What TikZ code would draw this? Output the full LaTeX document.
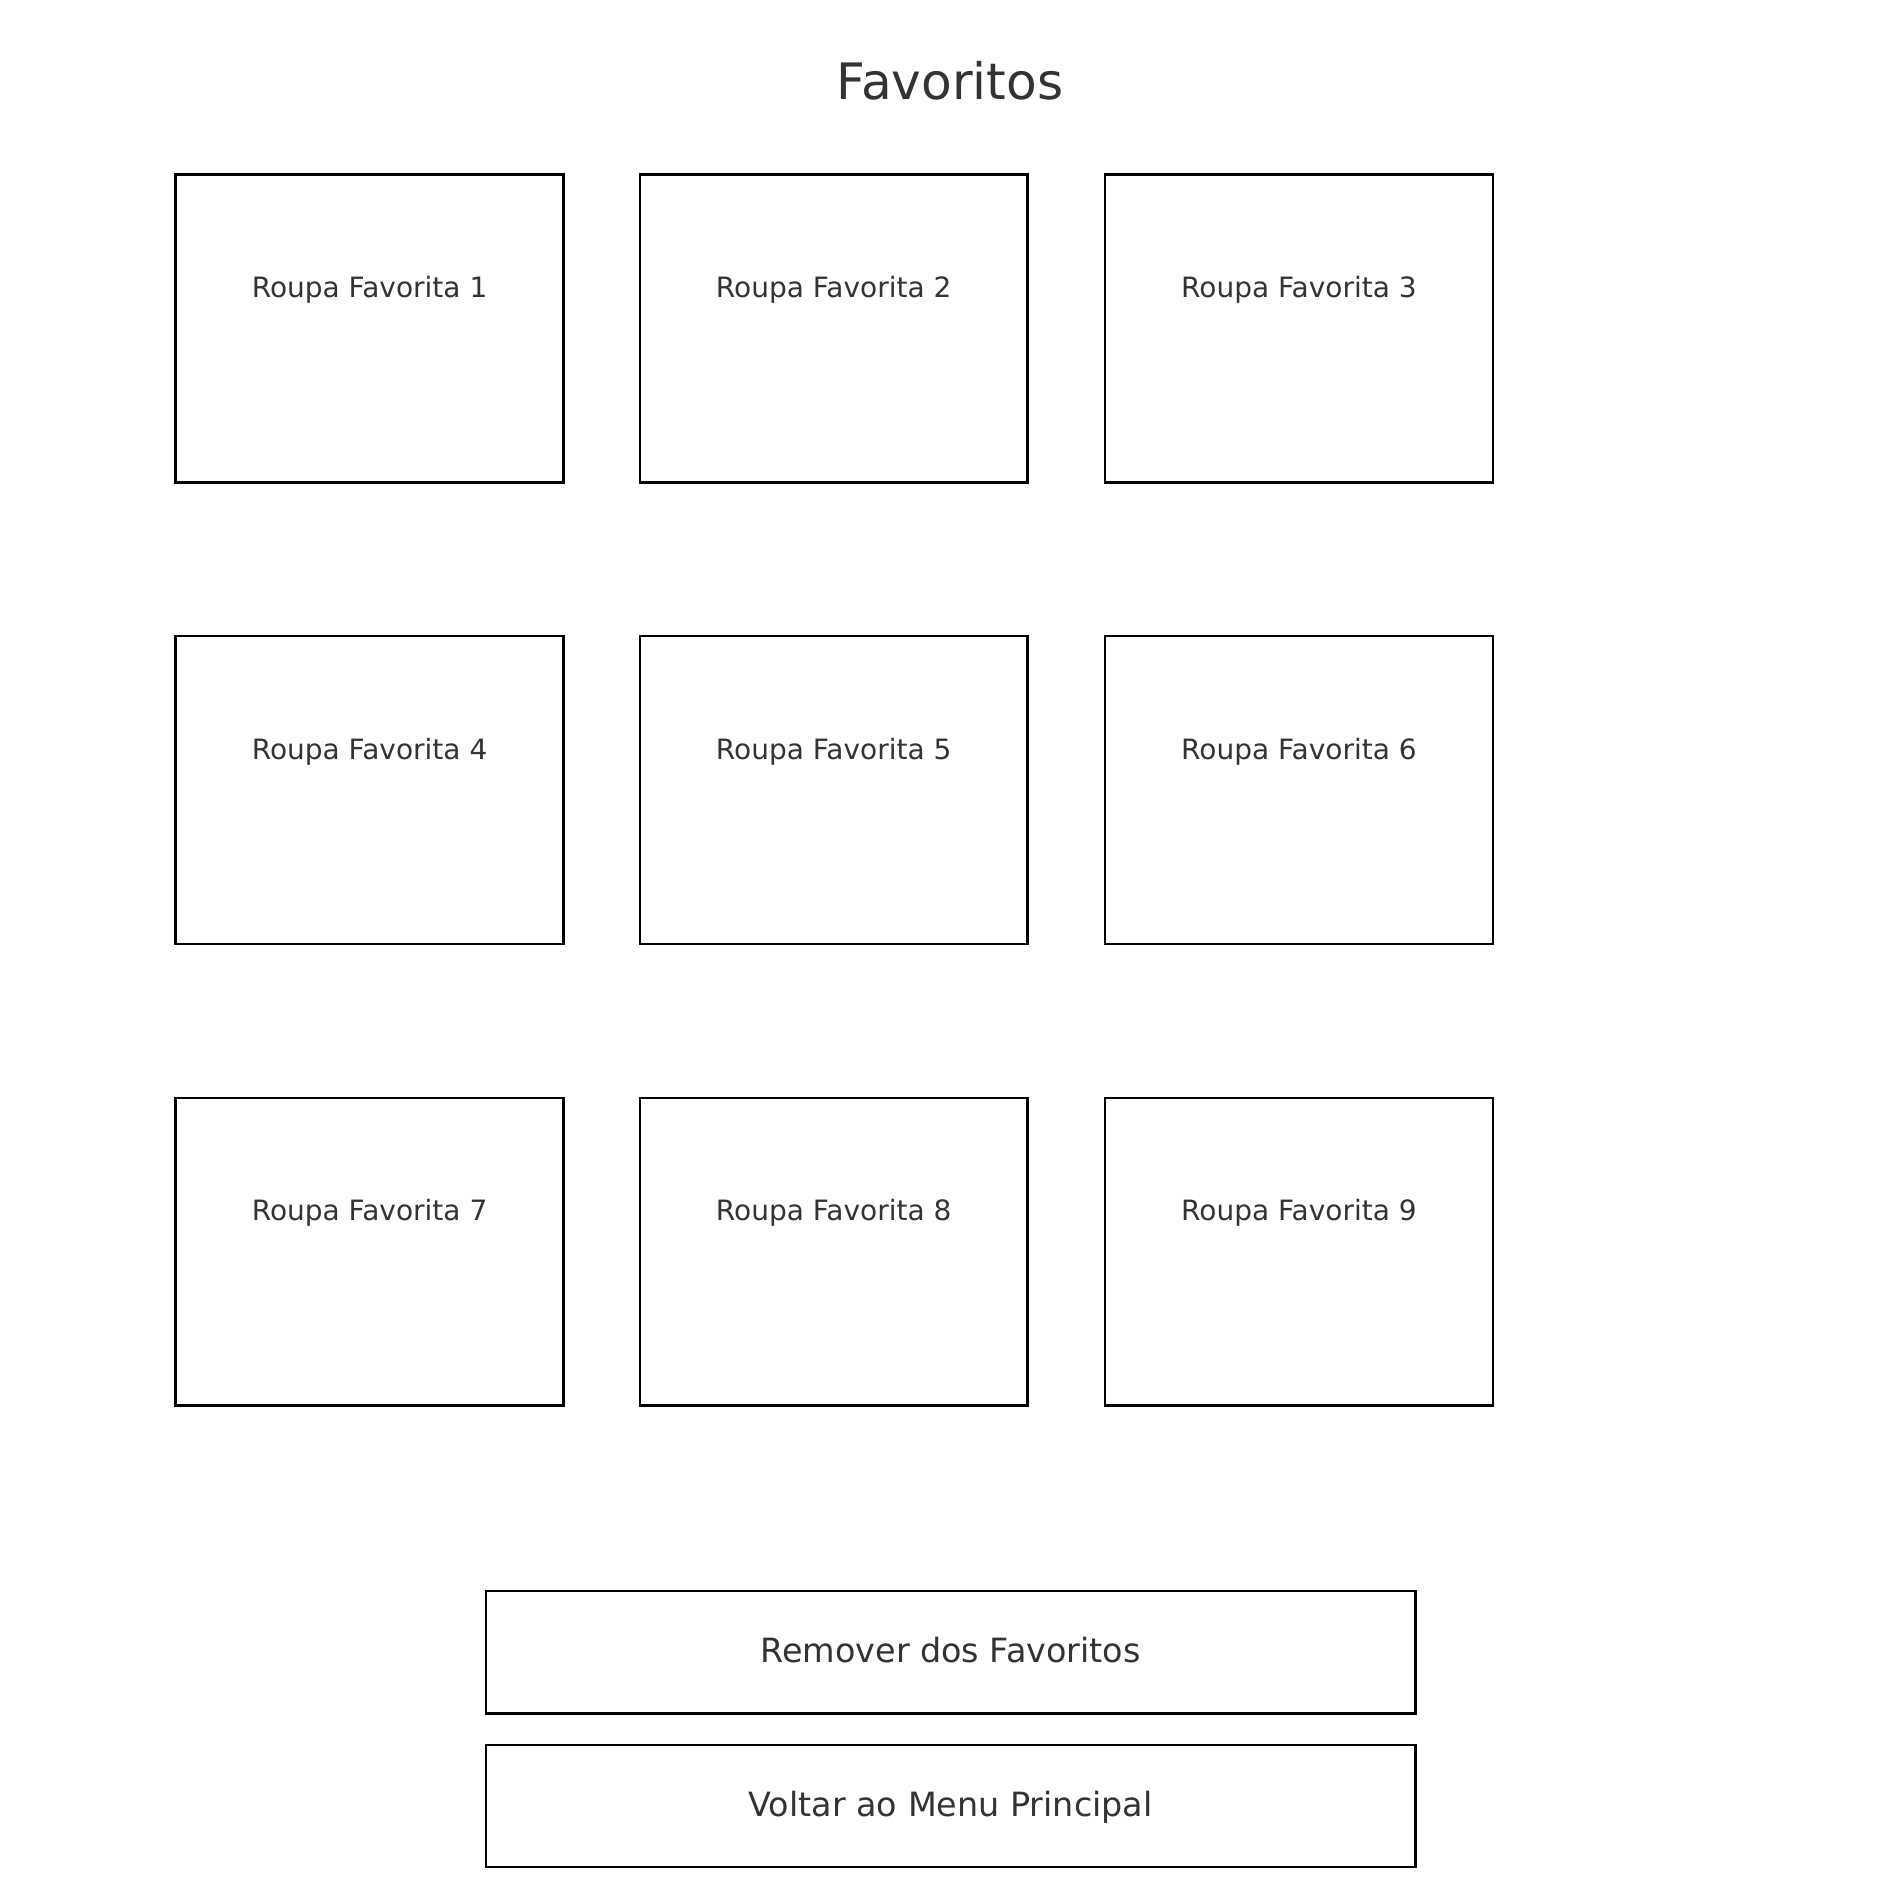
\documentclass[tikz,border=0pt]{standalone}
\usepackage{fontspec}
\setmainfont{DejaVu Sans}
\definecolor{txtgray}{HTML}{333333}
\begin{document}
\begin{tikzpicture}[x=0.5pt,y=-0.5pt,
  favbox/.style={draw=black, line width=1.3pt, inner sep=0pt, outer sep=0pt,
    minimum width=193.85pt, minimum height=153.9pt, anchor=north west},
  btnbox/.style={draw=black, line width=1.3pt, inner sep=0pt, outer sep=0pt,
    minimum width=464.7pt, minimum height=61.15pt, anchor=north west},
  favlabel/.style={text=txtgray, font=\fontsize{14pt}{16pt}\selectfont, anchor=base, inner sep=0pt},
  btnlabel/.style={text=txtgray, font=\fontsize{16.7pt}{19pt}\selectfont, anchor=base, inner sep=0pt},
  titlelabel/.style={text=txtgray, font=\fontsize{25.1pt}{28pt}\selectfont, anchor=base, inner sep=0pt}
]
\useasboundingbox (0,0) rectangle (1900,1888);
\node[titlelabel] (title) at (950,99.5) {Favoritos};
% grid of favourite items
\node[favbox] (b1) at (175.7,174.5) {};
\node[favbox] (b2) at (639.8,174.5) {};
\node[favbox] (b3) at (1105.1,174.5) {};
\node[favbox] (b4) at (175.7,636.1) {};
\node[favbox] (b5) at (639.8,636.1) {};
\node[favbox] (b6) at (1105.1,636.1) {};
\node[favbox] (b7) at (175.7,1097.8) {};
\node[favbox] (b8) at (639.8,1097.8) {};
\node[favbox] (b9) at (1105.1,1097.8) {};
\foreach \i in {1,...,9} {
  \node[favlabel] (t\i) at ([yshift=-61.5pt]b\i.north) {Roupa Favorita \i};
}
% buttons
\node[btnbox] (remove) at (485.9,1591) {};
\node[btnbox] (back) at (485.9,1744.8) {};
\node[btnlabel] (removetxt) at ([yshift=-35.9pt]remove.north) {Remover dos Favoritos};
\node[btnlabel] (backtxt) at ([yshift=-36pt]back.north) {Voltar ao Menu Principal};
\end{tikzpicture}
\end{document}
